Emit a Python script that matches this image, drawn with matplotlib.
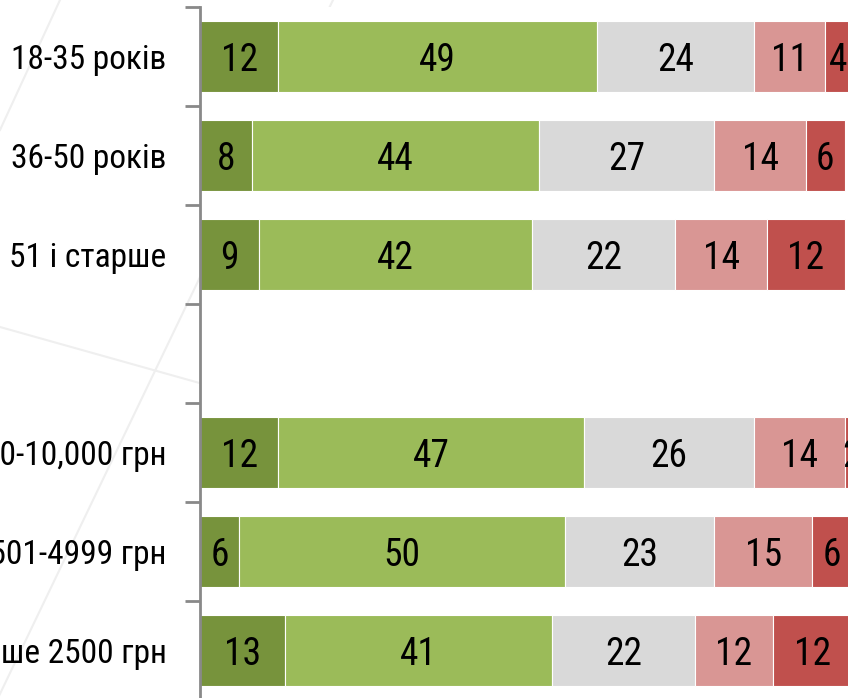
import matplotlib
matplotlib.use("Agg")
import matplotlib.pyplot as plt
from matplotlib.lines import Line2D

plt.rcParams['font.family'] = ['Roboto Condensed', 'PT Sans Narrow', 'DejaVu Sans']

# rows top to bottom; the empty row is the gap between the two groups
categories = ["18-35 років", "36-50 років", "51 і старше", "",
              "5000-10,000 грн", "2501-4999 грн", "Менше 2500 грн"]

s1 = [12, 8, 9, None, 12, 6, 13]
s2 = [49, 44, 42, None, 47, 50, 41]
s3 = [24, 27, 22, None, 26, 23, 22]
s4 = [11, 14, 14, None, 14, 15, 12]
s5 = [4, 6, 12, None, 2, 6, 12]

series = [s1, s2, s3, s4, s5]
colors = ["#77933C", "#9BBB59", "#D9D9D9", "#D99694", "#C0504D"]

W, H = 848, 698
fig = plt.figure(figsize=(W / 100, H / 100), dpi=100)

# faint decorative background lines (figure pixel coords)
for (x0, y0, x1, y1) in [(333, 0, -2, 698), (0, 327, 848, 565), (60, 0, 0, 130)]:
    fig.add_artist(Line2D([x0 / W, x1 / W], [1 - y0 / H, 1 - y1 / H],
                          transform=fig.transFigure, color="#efefef", lw=1.5, zorder=0))

ax = fig.add_axes([200 / W, -2 / H, 648 / W, 693 / H])
ax.set_facecolor("white")
ax.set_zorder(1)

ypos = list(range(len(categories)))
left = [0] * len(categories)
for vals, col in zip(series, colors):
    for i, v in enumerate(vals):
        if v is None:
            continue
        ax.barh(i, v, left=left[i], height=0.72, color=col,
                edgecolor="white", linewidth=0.8)
        ax.text(left[i] + v / 2, i, str(v), ha="center", va="center_baseline",
                fontsize=27, color="black", clip_on=True)
        left[i] += v

ax.set_xlim(0, 99.5)
ax.set_ylim(len(categories) - 0.5, -0.5)
ax.set_xticks([])
ax.set_yticks(ypos)
ax.set_yticklabels(categories, fontsize=24)
for lab in ax.get_yticklabels():
    lab.set_va("center_baseline")
ax.set_yticks([y - 0.5 for y in range(len(categories) + 1)], minor=True)
ax.tick_params(axis="y", which="major", length=0, pad=24)
ax.tick_params(axis="y", which="minor", length=11, width=2, color="#898989")

for s in ["top", "right", "bottom"]:
    ax.spines[s].set_visible(False)
ax.spines["left"].set_color("#898989")
ax.spines["left"].set_linewidth(2)

fig.savefig("out.png", dpi=100)
